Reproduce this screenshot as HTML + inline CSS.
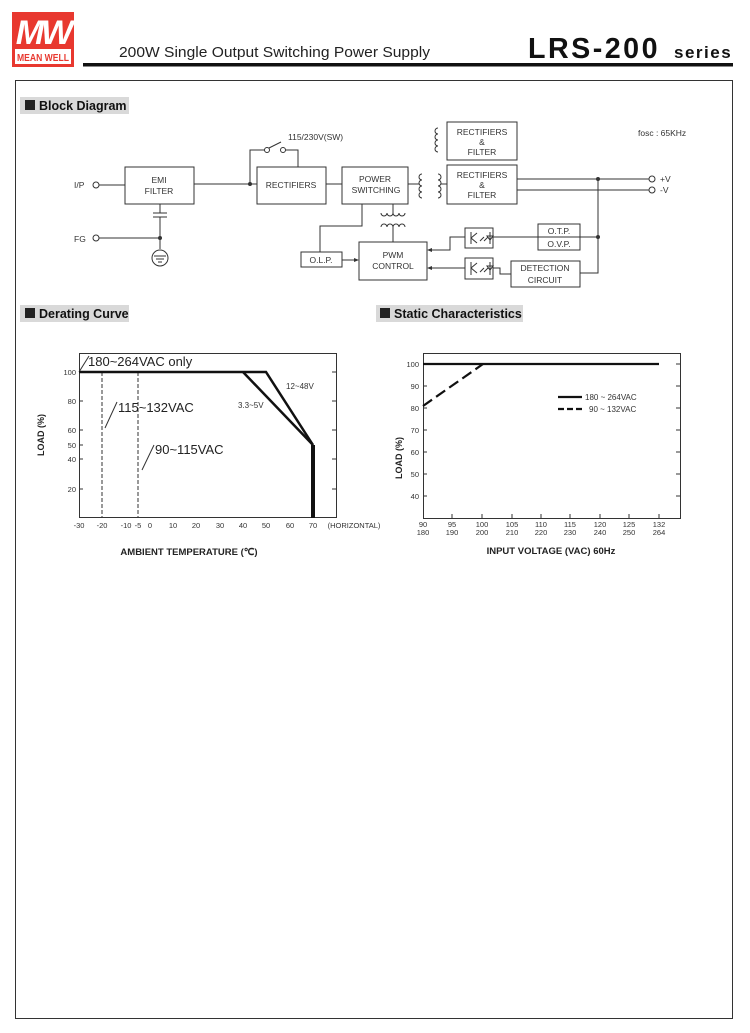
<!DOCTYPE html>
<html><head><meta charset="utf-8"><style>
html,body{margin:0;padding:0;background:#fff;}
svg{display:block;font-family:"Liberation Sans",Arial,sans-serif;}
</style></head><body>
<svg width="750" height="1033" viewBox="0 0 750 1033" xmlns="http://www.w3.org/2000/svg">
<!-- header -->
<rect x="12" y="12" width="62" height="55" fill="#e8382f"/>
<text x="43" y="44" font-size="34" font-weight="bold" font-style="italic" fill="#fff" text-anchor="middle" letter-spacing="-3">MW</text>
<rect x="15" y="49" width="56" height="15" fill="#fff"/>
<text x="17" y="61" font-size="10" font-weight="bold" fill="#e8382f" textLength="52" lengthAdjust="spacingAndGlyphs">MEAN WELL</text>
<text x="119" y="57" font-size="15" fill="#222" textLength="311" lengthAdjust="spacingAndGlyphs">200W Single Output Switching Power Supply</text>
<text x="528" y="58" font-size="29" font-weight="bold" fill="#111" letter-spacing="2.5" textLength="132" lengthAdjust="spacingAndGlyphs">LRS-200</text>
<text x="674" y="58" font-size="17" font-weight="bold" fill="#111" letter-spacing="1.5">series</text>
<rect x="83" y="63" width="650" height="3.5" fill="#111"/>
<!-- frame -->
<rect x="15.5" y="80.5" width="717" height="938" fill="none" stroke="#333" stroke-width="1"/>
<!-- section labels -->
<rect x="20" y="97" width="109" height="17" fill="#d9d9d9"/>
<rect x="25" y="100" width="10" height="10" fill="#222"/>
<text x="39" y="110" font-size="12.5" font-weight="bold" fill="#111">Block Diagram</text>
<rect x="20" y="305" width="109" height="17" fill="#d9d9d9"/>
<rect x="25" y="308" width="10" height="10" fill="#222"/>
<text x="39" y="318" font-size="12.5" font-weight="bold" fill="#111">Derating Curve</text>
<rect x="376" y="305" width="147" height="17" fill="#d9d9d9"/>
<rect x="380" y="308" width="10" height="10" fill="#222"/>
<text x="394" y="318" font-size="12.5" font-weight="bold" fill="#111">Static Characteristics</text>

<!-- block diagram -->
<g stroke="#333" stroke-width="1" fill="none">
<rect x="125" y="167" width="69" height="37"/>
<rect x="257" y="167" width="69" height="37"/>
<rect x="342" y="167" width="66" height="37"/>
<rect x="447" y="122" width="70" height="38"/>
<rect x="447" y="165" width="70" height="39"/>
<rect x="301" y="252" width="41" height="15"/>
<rect x="359" y="242" width="68" height="38"/>
<rect x="465" y="228" width="28" height="20"/>
<rect x="465" y="258" width="28" height="21"/>
<rect x="538" y="224" width="42" height="26"/>
<line x1="538" y1="237" x2="580" y2="237"/>
<rect x="511" y="261" width="69" height="26"/>
<!-- wires -->
<line x1="99" y1="185" x2="125" y2="185"/>
<line x1="194" y1="184" x2="257" y2="184"/>
<polyline points="250,184 250,150 265,150"/>
<line x1="265" y1="150" x2="281" y2="142"/>
<polyline points="283,150 298,150 298,167"/>
<line x1="326" y1="184" x2="342" y2="184"/>
<line x1="408" y1="184" x2="419" y2="184"/>
<line x1="441" y1="184" x2="447" y2="184"/>
<line x1="517" y1="179" x2="649" y2="179"/>
<line x1="517" y1="190" x2="649" y2="190"/>
<polyline points="598,179 598,273 580,273"/>
<line x1="493" y1="237" x2="598" y2="237"/>
<line x1="160" y1="204" x2="160" y2="213"/>
<line x1="153" y1="213" x2="167" y2="213"/>
<line x1="153" y1="217" x2="167" y2="217"/>
<line x1="160" y1="217" x2="160" y2="249"/>
<line x1="99" y1="238" x2="160" y2="238"/>
<circle cx="160" cy="258" r="8"/>
<line x1="154" y1="256" x2="166" y2="256"/>
<line x1="156" y1="259" x2="164" y2="259"/>
<line x1="158" y1="262" x2="162" y2="262"/>
<polyline points="362,204 362,226 320,226 320,252"/>
<line x1="342" y1="260" x2="356" y2="260"/>
<line x1="393" y1="204" x2="393" y2="213"/>
<line x1="393" y1="227" x2="393" y2="242"/>
<polyline points="465,237 450,237 450,250 430,250"/>
<line x1="465" y1="268" x2="430" y2="268"/>
<polyline points="493,268 500,268 500,274 511,274"/>
<!-- coils -->
<path d="M381,213 a3,3 0 0 0 6,0 a3,3 0 0 0 6,0 a3,3 0 0 0 6,0 a3,3 0 0 0 6,0"/>
<path d="M381,227 a3,3 0 0 1 6,0 a3,3 0 0 1 6,0 a3,3 0 0 1 6,0 a3,3 0 0 1 6,0"/>
<path d="M422,174 a3,3 0 0 0 0,6 a3,3 0 0 0 0,6 a3,3 0 0 0 0,6 a3,3 0 0 0 0,6"/>
<path d="M438,174 a3,3 0 0 1 0,6 a3,3 0 0 1 0,6 a3,3 0 0 1 0,6 a3,3 0 0 1 0,6"/>
<path d="M438,128 a3,3 0 0 0 0,6 a3,3 0 0 0 0,6 a3,3 0 0 0 0,6 a3,3 0 0 0 0,6"/>
<!-- opto symbols -->
<path d="M471,232 v12 M471,238 l6,-5 M471,238 l6,5 M480,241 l4,-4 M484,241 l4,-4 M490,232 v12 M487,236 h6 l-3,4 z"/>
<path d="M471,262 v13 M471,268 l6,-5 M471,268 l6,5 M480,272 l4,-4 M484,272 l4,-4 M490,262 v13 M487,266 h6 l-3,4 z"/>
</g>
<g fill="#333">
<circle cx="250" cy="184" r="2"/><circle cx="160" cy="238" r="2"/>
<circle cx="598" cy="179" r="2"/><circle cx="598" cy="237" r="2"/>
<path d="M359,260 l-5,-2 v4z"/><path d="M427,250 l5,-2 v4z"/><path d="M427,268 l5,-2 v4z"/>
</g>
<g fill="#fff" stroke="#333">
<circle cx="96" cy="185" r="3"/><circle cx="96" cy="238" r="3"/>
<circle cx="652" cy="179" r="3"/><circle cx="652" cy="190" r="3"/>
<circle cx="267" cy="150" r="2.5"/><circle cx="283" cy="150" r="2.5"/>
</g>
<g font-size="8.5" fill="#333" text-anchor="middle">
<text x="159" y="183">EMI</text><text x="159" y="194">FILTER</text>
<text x="291" y="188">RECTIFIERS</text>
<text x="375" y="182">POWER</text><text x="376" y="193">SWITCHING</text>
<text x="482" y="135">RECTIFIERS</text><text x="482" y="145">&amp;</text><text x="482" y="155">FILTER</text>
<text x="482" y="178">RECTIFIERS</text><text x="482" y="188">&amp;</text><text x="482" y="198">FILTER</text>
<text x="321" y="263">O.L.P.</text>
<text x="393" y="258">PWM</text><text x="393" y="269">CONTROL</text>
<text x="559" y="234">O.T.P.</text><text x="559" y="247">O.V.P.</text>
<text x="545" y="271">DETECTION</text><text x="545" y="283">CIRCUIT</text>
</g>
<g font-size="8.5" fill="#333">
<text x="74" y="188">I/P</text><text x="74" y="242">FG</text>
<text x="660" y="182">+V</text><text x="660" y="193">-V</text>
<text x="288" y="140">115/230V(SW)</text>
<text x="638" y="136">fosc : 65KHz</text>
</g>

<!-- derating chart -->
<rect x="79.5" y="353.5" width="257" height="164" fill="none" stroke="#333"/>
<g stroke="#333" stroke-width="1">
<line x1="79" y1="372" x2="83" y2="372"/><line x1="79" y1="401" x2="83" y2="401"/><line x1="79" y1="430" x2="83" y2="430"/><line x1="79" y1="445" x2="83" y2="445"/><line x1="79" y1="459" x2="83" y2="459"/><line x1="79" y1="489" x2="83" y2="489"/>
<line x1="332" y1="372" x2="336" y2="372"/><line x1="332" y1="401" x2="336" y2="401"/><line x1="332" y1="430" x2="336" y2="430"/><line x1="332" y1="459" x2="336" y2="459"/><line x1="332" y1="489" x2="336" y2="489"/>
<line x1="102" y1="372" x2="102" y2="517" stroke-dasharray="4,2"/>
<line x1="138" y1="372" x2="138" y2="517" stroke-dasharray="4,2"/>
<line x1="79" y1="372" x2="89" y2="356"/>
<line x1="105" y1="428" x2="117" y2="402"/>
<line x1="142" y1="470" x2="154" y2="445"/>
</g>
<g stroke="#111" stroke-width="2.5" fill="none">
<polyline points="79,372 266,372 313,445"/>
<polyline points="243,372 313,445"/>
<line x1="313" y1="445" x2="313" y2="518" stroke-width="4"/>
</g>
<g font-size="13" fill="#222">
<text x="88" y="366">180~264VAC only</text>
<text x="118" y="412">115~132VAC</text>
<text x="155" y="454">90~115VAC</text>
</g>
<g font-size="8" fill="#333">
<text x="286" y="389">12~48V</text><text x="238" y="408">3.3~5V</text>
</g>
<g font-size="7.5" fill="#333" text-anchor="end">
<text x="76" y="375">100</text><text x="76" y="404">80</text><text x="76" y="433">60</text><text x="76" y="448">50</text><text x="76" y="462">40</text><text x="76" y="492">20</text>
</g>
<g font-size="7.5" fill="#333" text-anchor="middle">
<text x="79" y="528">-30</text><text x="102" y="528">-20</text><text x="126" y="528">-10</text><text x="138" y="528">-5</text><text x="150" y="528">0</text><text x="173" y="528">10</text><text x="196" y="528">20</text><text x="220" y="528">30</text><text x="243" y="528">40</text><text x="266" y="528">50</text><text x="290" y="528">60</text><text x="313" y="528">70</text>
<text x="354" y="528">(HORIZONTAL)</text>
</g>
<text x="44" y="435" font-size="9" font-weight="bold" fill="#222" text-anchor="middle" transform="rotate(-90 44 435)">LOAD (%)</text>
<text x="189" y="555" font-size="9.5" font-weight="bold" fill="#222" text-anchor="middle">AMBIENT TEMPERATURE (℃)</text>

<!-- static chart -->
<rect x="423.5" y="353.5" width="257" height="165" fill="none" stroke="#333"/>
<g stroke="#333">
<line x1="423" y1="364" x2="427" y2="364"/><line x1="423" y1="386" x2="427" y2="386"/><line x1="423" y1="408" x2="427" y2="408"/><line x1="423" y1="430" x2="427" y2="430"/><line x1="423" y1="452" x2="427" y2="452"/><line x1="423" y1="474" x2="427" y2="474"/><line x1="423" y1="496" x2="427" y2="496"/>
<line x1="676" y1="364" x2="680" y2="364"/><line x1="676" y1="386" x2="680" y2="386"/><line x1="676" y1="408" x2="680" y2="408"/><line x1="676" y1="430" x2="680" y2="430"/><line x1="676" y1="452" x2="680" y2="452"/><line x1="676" y1="474" x2="680" y2="474"/><line x1="676" y1="496" x2="680" y2="496"/>
<line x1="452" y1="514" x2="452" y2="518"/><line x1="482" y1="514" x2="482" y2="518"/><line x1="512" y1="514" x2="512" y2="518"/><line x1="541" y1="514" x2="541" y2="518"/><line x1="570" y1="514" x2="570" y2="518"/><line x1="600" y1="514" x2="600" y2="518"/><line x1="629" y1="514" x2="629" y2="518"/><line x1="659" y1="514" x2="659" y2="518"/>
</g>
<g stroke="#111" stroke-width="2.2">
<line x1="423" y1="364" x2="659" y2="364"/>
<line x1="423" y1="406" x2="483" y2="364" stroke-dasharray="11,5"/>
<line x1="558" y1="397" x2="582" y2="397"/>
<line x1="558" y1="409" x2="582" y2="409" stroke-dasharray="6,3"/>
</g>
<g font-size="8" fill="#333">
<text x="585" y="400">180 ~ 264VAC</text><text x="589" y="412">90 ~ 132VAC</text>
</g>
<g font-size="7.5" fill="#333" text-anchor="end">
<text x="419" y="367">100</text><text x="419" y="389">90</text><text x="419" y="411">80</text><text x="419" y="433">70</text><text x="419" y="455">60</text><text x="419" y="477">50</text><text x="419" y="499">40</text>
</g>
<g font-size="7.5" fill="#333" text-anchor="middle">
<text x="423" y="527">90</text><text x="452" y="527">95</text><text x="482" y="527">100</text><text x="512" y="527">105</text><text x="541" y="527">110</text><text x="570" y="527">115</text><text x="600" y="527">120</text><text x="629" y="527">125</text><text x="659" y="527">132</text>
<text x="423" y="535">180</text><text x="452" y="535">190</text><text x="482" y="535">200</text><text x="512" y="535">210</text><text x="541" y="535">220</text><text x="570" y="535">230</text><text x="600" y="535">240</text><text x="629" y="535">250</text><text x="659" y="535">264</text>
</g>
<text x="402" y="458" font-size="9" font-weight="bold" fill="#222" text-anchor="middle" transform="rotate(-90 402 458)">LOAD (%)</text>
<text x="551" y="554" font-size="9.5" font-weight="bold" fill="#222" text-anchor="middle">INPUT VOLTAGE (VAC) 60Hz</text>
</svg>
</body></html>
